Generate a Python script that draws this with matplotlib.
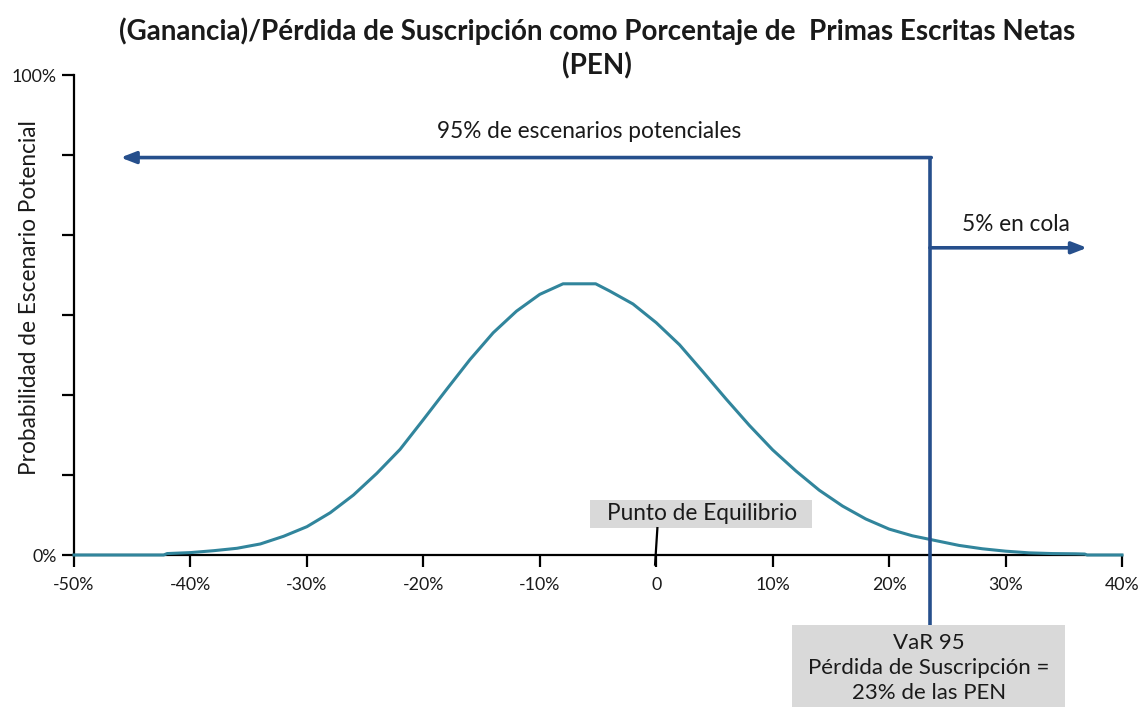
import matplotlib
matplotlib.use("Agg")
import matplotlib.pyplot as plt
from matplotlib.patches import Rectangle

# ---- data ----
x_pct = [-50, -44, -42.3, -42, -40, -38, -36, -34, -32, -30, -28, -26, -24, -22,
         -20, -18, -16, -14, -12, -10, -8, -5.2, -4, -2, 0, 2, 4, 6, 8, 10,
         12, 14, 16, 18, 20, 22, 24, 26, 28, 30, 32, 34, 36, 36.8, 37, 40]
prob_pct = [0, 0, 0, 0.3, 0.5, 0.9, 1.4, 2.3, 3.9, 5.9, 8.8, 12.5, 17, 22,
            28.2, 34.5, 40.7, 46.3, 50.8, 54.3, 56.5, 56.5, 55, 52.3, 48.4, 43.8, 38.2, 32.5, 27, 21.9,
            17.5, 13.5, 10.2, 7.5, 5.4, 4.0, 3.0, 2.0, 1.3, 0.8, 0.45, 0.3, 0.25, 0.2, 0, 0]

x_ticks = [-50, -40, -30, -20, -10, 0, 10, 20, 30, 40]
x_tick_labels = ["-50%", "-40%", "-30%", "-20%", "-10%", "0", "10%", "20%", "30%", "40%"]
y_ticks = [0, 100/6, 200/6, 300/6, 400/6, 500/6, 100]
y_tick_labels = ["0%", "", "", "", "", "", "100%"]

var95 = 23.5          # VaR 95 position (%)
arrow95_y = 82.8      # level of the 95% arrow
arrow95_end = -46     # tip of the 95% arrow
arrow5_y = 64.0       # level of the 5% arrow
arrow5_end = 37       # tip of the 5% arrow

title = "(Ganancia)/Pérdida de Suscripción como Porcentaje de  Primas Escritas Netas\n(PEN)"
ylabel = "Probabilidad de Escenario Potencial"
txt95 = "95% de escenarios potenciales"
txt5 = "5% en cola"
txt_eq = "Punto de Equilibrio"
txt_var = "VaR 95\nPérdida de Suscripción =\n23% de las PEN"

CURVE = "#31859C"
BLUE = "#264F8C"
GRAY = "#D9D9D9"
FONT = ["Lato", "DejaVu Sans"]

plt.rcParams["font.family"] = FONT

fig = plt.figure(figsize=(11.44, 7.07), dpi=100)
W, H = 1144, 707
ax = fig.add_axes([74 / W, 1 - 555 / H, (1122 - 74) / W, (555 - 75) / H])

ax.set_xlim(-50, 40)
ax.set_ylim(0, 100)
for s in ["top", "right"]:
    ax.spines[s].set_visible(False)
for s in ["left", "bottom"]:
    ax.spines[s].set_linewidth(1.6)
    ax.spines[s].set_color("black")

ax.set_xticks(x_ticks)
ax.set_xticklabels(x_tick_labels, fontsize=12.8)
ax.set_yticks(y_ticks)
ax.set_yticklabels(y_tick_labels, fontsize=12.8)
ax.tick_params(axis="both", direction="out", length=8.5, width=1.6, colors="black")
ax.tick_params(axis="x", pad=7)
ax.tick_params(axis="y", pad=4)
for lab in ax.get_xticklabels() + ax.get_yticklabels():
    lab.set_color("#1a1a1a")

ax.plot(x_pct, prob_pct, color=CURVE, lw=2.2, clip_on=False, zorder=5)

# VaR vertical line and arrows
ax.plot([var95, var95], [-14.6, arrow95_y], color=BLUE, lw=2.6, clip_on=False, zorder=6,
        solid_capstyle="butt")
ax.annotate("", xy=(arrow95_end, arrow95_y), xytext=(var95 + 0.12, arrow95_y),
            arrowprops=dict(arrowstyle="-|>,head_length=0.9,head_width=0.35", color=BLUE, lw=2.6,
                            shrinkA=0, shrinkB=0), zorder=6)
ax.annotate("", xy=(arrow5_end, arrow5_y), xytext=(var95, arrow5_y),
            arrowprops=dict(arrowstyle="-|>,head_length=0.9,head_width=0.35", color=BLUE, lw=2.6,
                            shrinkA=0, shrinkB=0), zorder=6)

ax.text(-5.8, 88.2, txt95, ha="center", va="center", fontsize=16.3, color="#1a1a1a")
ax.text(30.9, 68.8, txt5, ha="center", va="center", fontsize=16.3, color="#1a1a1a")

# Punto de Equilibrio box
ax.add_patch(Rectangle((-5.67, 5.6), 19.07, 5.86, facecolor=GRAY, edgecolor="none",
                       clip_on=False, zorder=4))
ax.text(3.9, 8.6, txt_eq, ha="center", va="center", fontsize=16.3, color="#1a1a1a", zorder=7)
ax.plot([0.1, -0.1], [5.6, -2.0], color="black", lw=1.6, clip_on=False, zorder=4)

# VaR box
ax.add_patch(Rectangle((11.7, -31.7), 23.4, 17.1, facecolor=GRAY, edgecolor="none",
                       clip_on=False, zorder=4))
ax.text(23.4, -23.6, txt_var, ha="center", va="center", fontsize=16, color="#1a1a1a",
        linespacing=1.32, zorder=7)

fig.text(597 / W, 1 - 48 / H, title, ha="center", va="center", fontsize=20,
         fontweight="bold", color="#1a1a1a", linespacing=1.33)
fig.text(30 / W, 1 - 298 / H, ylabel, ha="center", va="center", rotation=90,
         fontsize=16.3, color="#1a1a1a")

fig.savefig("out.png", dpi=100)
